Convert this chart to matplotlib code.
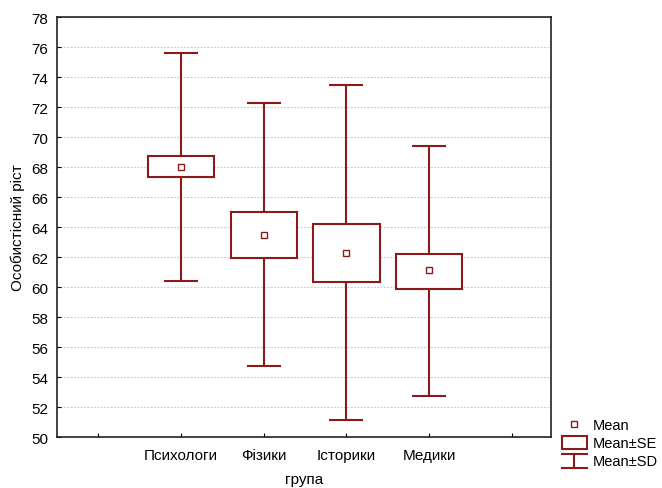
import numpy as np
import matplotlib.pyplot as plt
from matplotlib.lines import Line2D
from matplotlib.patches import Rectangle
from matplotlib.legend_handler import HandlerBase

plt.rcParams['font.family'] = ['Liberation Sans', 'DejaVu Sans']

groups = ['Психологи', 'Фізики', 'Історики', 'Медики']
means = [68.0, 63.47, 62.27, 61.13]
se_low = [67.33, 61.93, 60.33, 59.87]
se_high = [68.73, 65.0, 64.2, 62.2]
sd_low = [60.4, 54.73, 51.13, 52.73]
sd_high = [75.6, 72.27, 73.47, 69.4]

red = '#8b1a1a'


class HandlerSD(HandlerBase):
    def create_artists(self, legend, orig, xd, yd, w, h, fontsize, trans):
        cx = xd + w / 2
        top = Line2D([xd, xd + w], [yd + h + 1, yd + h + 1], color=red, lw=1.5, transform=trans)
        bot = Line2D([xd, xd + w], [yd - 2, yd - 2], color=red, lw=1.5, transform=trans)
        mid = Line2D([cx, cx], [yd - 2, yd + h + 1], color=red, lw=1.5, transform=trans)
        return [top, bot, mid]


class HandlerSE(HandlerBase):
    def create_artists(self, legend, orig, xd, yd, w, h, fontsize, trans):
        r = Rectangle((xd, yd - 1), w, h + 2, facecolor='white', edgecolor=red, lw=1.5, transform=trans)
        return [r]


fig = plt.figure(figsize=(6.62, 4.89), dpi=100)
ax = fig.add_axes([0.086, 0.104, 0.746, 0.859])

x = np.arange(1, len(groups) + 1)
means = np.array(means)
se_low = np.array(se_low)
se_high = np.array(se_high)
sd_low = np.array(sd_low)
sd_high = np.array(sd_high)

ax.errorbar(x, means, yerr=[means - sd_low, sd_high - means], fmt='none',
            ecolor=red, elinewidth=1.5, capsize=12, capthick=1.5, zorder=2)
ax.bar(x, se_high - se_low, bottom=se_low, width=0.8, facecolor='white',
       edgecolor=red, linewidth=1.5, zorder=3)
ax.plot(x, means, 's', ms=4, mfc='white', mec=red, mew=1, zorder=4)

ax.set_xlim(-0.5, 5.47)
ax.set_ylim(50, 78)
ax.set_yticks(np.arange(50, 79, 2))
ax.set_xticks(np.arange(0, 6))
ax.set_xticklabels([''] + groups + [''])
ax.tick_params(direction='in', length=3, labelsize=11)
ax.tick_params(axis='x', pad=8)
ax.tick_params(axis='y', pad=6)
ax.yaxis.grid(True, linestyle=(0, (1.5, 1.5)), color='#c8c8c8', lw=0.8)
ax.set_axisbelow(True)
for s in ax.spines.values():
    s.set_color('#222222')
    s.set_linewidth(1.2)

ax.set_xlabel('група', fontsize=11, labelpad=7)
ax.set_ylabel('Особистісний ріст', fontsize=11, labelpad=5)

h_mean = Line2D([], [], marker='s', ms=4, mfc='white', mec=red, mew=1, ls='none')
h_se = Rectangle((0, 0), 1, 1)
h_sd = Line2D([], [])
fig.legend([h_mean, h_se, h_sd], ['Mean', 'Mean±SE', 'Mean±SD'],
           handler_map={h_sd: HandlerSD(), h_se: HandlerSE()},
           loc='lower left', bbox_to_anchor=(0.835, 0.022), frameon=False,
           fontsize=10.5, handlelength=1.75, handletextpad=0.4, labelspacing=0.3,
           borderpad=0.1)

fig.savefig('out.png', dpi=100)
